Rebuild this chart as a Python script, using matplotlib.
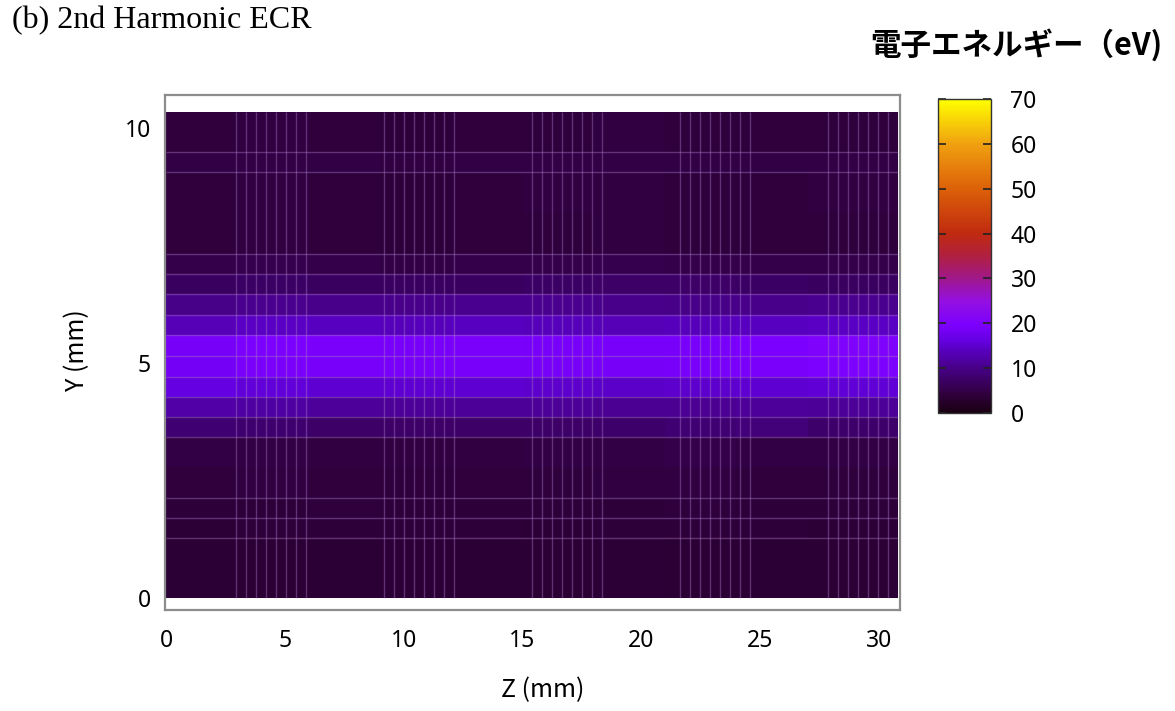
import numpy as np
import matplotlib
matplotlib.use("Agg")
import matplotlib.pyplot as plt
from matplotlib.colors import LinearSegmentedColormap

# cell edges of the energy map (mm)
z_edges = [0, 3, 6, 9, 12, 15, 18, 21, 24, 27, 30.8]
y_edges = [0, 1.28, 1.70, 2.13, 2.78, 3.43, 3.85, 4.28, 4.70, 5.15, 5.60,
           6.02, 6.47, 6.89, 7.32, 8.20, 9.06, 9.49, 10.34]

# electron energy (eV), rows from bottom (Y=0) to top
energy = [
    [3.3, 3.4, 3.5, 3.6, 3.4, 3.4, 3.6, 3.5, 3.3, 3.4],
    [3.8, 3.9, 4.0, 4.0, 3.9, 3.8, 4.0, 4.1, 3.9, 3.8],
    [3.9, 4.1, 4.2, 4.0, 4.1, 3.9, 4.0, 4.2, 4.1, 4.0],
    [4.2, 4.4, 4.3, 4.2, 4.3, 4.2, 4.4, 4.5, 4.3, 4.2],
    [4.8, 4.7, 4.6, 4.5, 4.6, 4.7, 4.9, 5.0, 4.8, 4.7],
    [8.3, 8.0, 7.6, 7.5, 7.5, 7.6, 7.8, 8.3, 8.8, 7.9],
    [12.2, 11.8, 11.3, 11.1, 11.2, 11.0, 10.8, 10.9, 11.4, 11.2],
    [16.2, 15.8, 15.3, 15.1, 15.3, 15.0, 14.6, 14.8, 15.2, 15.5],
    [18.4, 19.4, 19.1, 18.9, 19.0, 18.8, 18.7, 18.9, 19.4, 19.8],
    [18.6, 19.6, 19.3, 19.1, 19.2, 19.0, 18.9, 19.1, 19.6, 20.0],
    [13.4, 14.4, 14.0, 13.8, 14.0, 13.8, 13.6, 13.7, 14.2, 14.4],
    [10.0, 10.5, 10.3, 10.2, 10.5, 10.4, 10.2, 10.1, 10.3, 10.4],
    [7.0, 7.2, 7.0, 6.9, 7.0, 7.2, 7.6, 7.5, 7.2, 7.0],
    [5.0, 5.2, 5.0, 4.9, 5.0, 5.1, 5.2, 5.1, 5.0, 5.0],
    [4.2, 4.4, 4.3, 4.1, 4.2, 4.3, 4.4, 4.3, 4.2, 4.3],
    [4.3, 4.4, 4.2, 4.1, 4.3, 4.4, 4.5, 4.3, 4.2, 4.4],
    [4.8, 4.9, 4.7, 4.6, 4.8, 4.9, 4.9, 4.8, 4.7, 4.8],
    [4.3, 4.4, 4.2, 4.0, 4.2, 4.3, 4.4, 4.3, 4.2, 4.3],
]

# simulation mesh lines: refined blocks along Z, refined rows along Y
z_block_starts = [2.945, 9.17, 15.40, 21.62, 27.85]
z_fine_pitch = 0.4207
y_mesh = [1.28, 1.70, 2.13, 3.43, 3.85, 4.28, 4.70, 5.15, 5.60, 6.02,
          6.47, 6.89, 7.32, 9.06, 9.49]

cb_ticks = [0, 10, 20, 30, 40, 50, 60, 70]
z_ticks = [0, 5, 10, 15, 20, 25, 30]
y_ticks = [0, 5, 10]

vmax = 70.0
cmap = LinearSegmentedColormap.from_list("ecr", [
    (0 / vmax, "#1a0012"),
    (4.3 / vmax, "#30003e"),
    (5 / vmax, "#34004a"),
    (7.5 / vmax, "#3c0068"),
    (10.5 / vmax, "#4a0090"),
    (14 / vmax, "#5800c0"),
    (16 / vmax, "#6400e0"),
    (19.5 / vmax, "#7c00ff"),
    (25 / vmax, "#9410e0"),
    (30 / vmax, "#a0188a"),
    (35 / vmax, "#b02040"),
    (40 / vmax, "#c02a10"),
    (50 / vmax, "#dc6008"),
    (60 / vmax, "#f0a010"),
    (70 / vmax, "#ffff00"),
])

W, H = 1175, 711
fig = plt.figure(figsize=(W / 100, H / 100), dpi=100)
ax = fig.add_axes([165 / W, 1 - 610 / H, (900 - 165) / W, (610 - 95) / H])

mesh = ax.pcolormesh(z_edges, y_edges, np.array(energy), cmap=cmap,
                     vmin=0, vmax=vmax, shading="flat")

z_lines = [s + k * z_fine_pitch for s in z_block_starts for k in range(8)]
z_lines = [z for z in z_lines if z < z_edges[-1] - 0.05]
ax.vlines(z_lines, y_edges[0], y_edges[-1], color="#a878c8", alpha=0.42, lw=1.0)
ax.hlines(y_mesh, z_edges[0], z_edges[-1], color="#a878c8", alpha=0.42, lw=1.0)

ax.set_xlim(-0.04, 30.88)
ax.set_ylim(-0.255, 10.70)
ax.set_xticks(z_ticks)
ax.set_yticks(y_ticks)
ax.tick_params(length=0, labelsize=16.5, pad=14)
ax.tick_params(axis="y", pad=10)
for lab in ax.get_xticklabels() + ax.get_yticklabels():
    lab.set_family(["Noto Sans", "DejaVu Sans"])
for sp in ax.spines.values():
    sp.set_color("#8c8c8c")
    sp.set_linewidth(1.6)

fig.text(543 / W, 1 - 690 / H, "Z (mm)", ha="center", va="center",
         fontsize=18, family=["Noto Sans CJK JP", "DejaVu Sans"])
fig.text(77 / W, 1 - 350 / H, "Y (mm)", ha="center", va="center",
         rotation=90, fontsize=18, family=["Noto Sans CJK JP", "DejaVu Sans"])

# colour scale
cax = fig.add_axes([938 / W, 1 - 413 / H, (991 - 938) / W, (413 - 99) / H])
cb = fig.colorbar(mesh, cax=cax, ticks=cb_ticks)
cb.outline.set_edgecolor("#333333")
cb.outline.set_linewidth(1.0)
cax.tick_params(direction="in", left=True, right=True, length=6, width=1.2,
                color="#222222", labelsize=16.5, pad=14)
for lab in cax.get_yticklabels():
    lab.set_family(["Noto Sans", "DejaVu Sans"])

fig.text(1162 / W, 1 - 45 / H, "電子エネルギー（eV)", ha="right", va="center",
         fontsize=22, fontweight="bold", family=["Noto Sans CJK JP", "DejaVu Sans"])
fig.text(12 / W, 1 - 28 / H, "(b) 2nd Harmonic ECR", ha="left", va="baseline",
         fontsize=23, family="Liberation Serif")

fig.savefig("out.png", dpi=100)
